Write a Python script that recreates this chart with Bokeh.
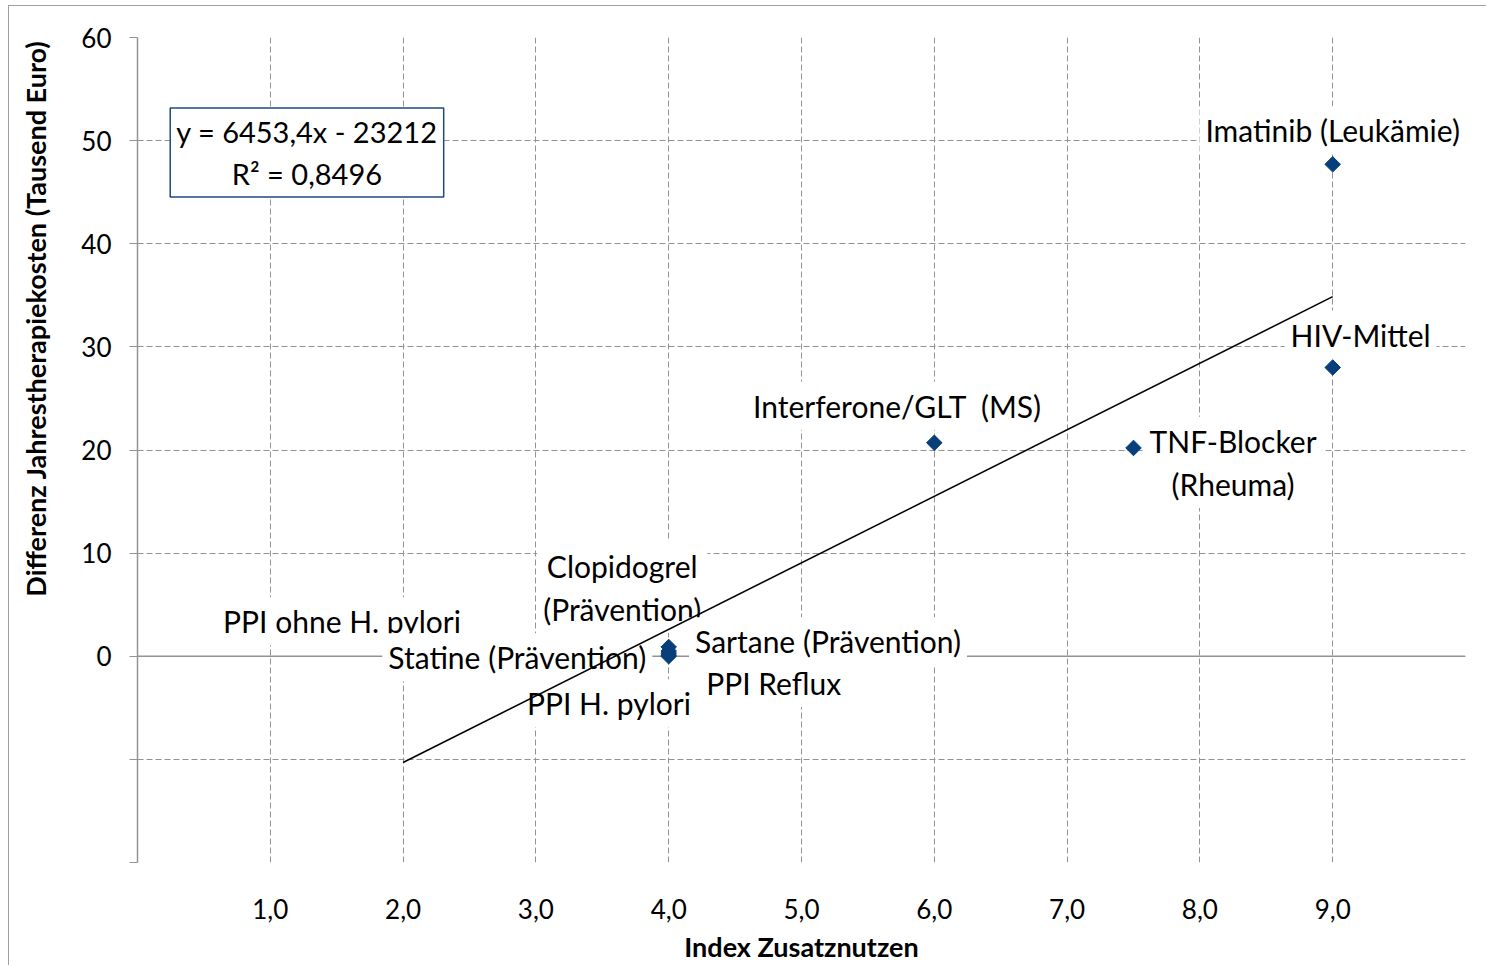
import math
from bokeh.plotting import figure
from bokeh.models import Label, Span, FixedTicker, Title
from bokeh.embed import file_html
from bokeh.resources import INLINE

# ---- data ----
names = ["Imatinib (Leukämie)", "HIV-Mittel", "Interferone/GLT\u00a0\u00a0(MS)", "TNF-Blocker\n(Rheuma)",
         "Clopidogrel\n(Prävention)", "Sartane (Prävention)", "PPI Reflux", "PPI H. pylori",
         "PPI ohne H. pylori", "Statine (Prävention)"]
index_x = [9.0, 9.0, 6.0, 7.5, 4.0, 4.0, 4.0, 4.0, 2.0, 4.0]
cost_y = [47.7, 28.0, 20.7, 20.2, 0.9, 0.5, 0.1, 0.0, 0.0, 0.3]

# trendline (Euro) and R²
slope_eur = 6453.4
intercept_eur = -23212
r_squared = 0.8496

x_ticks = [1, 2, 3, 4, 5, 6, 7, 8, 9]
x_tick_labels = ["1,0", "2,0", "3,0", "4,0", "5,0", "6,0", "7,0", "8,0", "9,0"]
y_ticks = [-20, -10, 0, 10, 20, 30, 40, 50, 60]
y_tick_labels = ["", "", "0", "10", "20", "30", "40", "50", "60"]

# label anchor positions (layout)
label_anchor_x = [9.0, 9.21, 5.72, 8.25, 3.65, 5.2, 4.79, 3.55, 1.54, 2.86]
label_anchor_y = [51.0, 31.2, 24.3, 18.8, 6.7, 1.45, -2.6, -4.55, 3.4, -0.1]

FONT = "Lato"
GRID = "#939393"

p = figure(width=1478, height=960, x_range=(0, 10), y_range=(-20, 60),
           output_backend="svg", toolbar_location=None,
           min_border_left=128, min_border_top=31, min_border_right=22, min_border_bottom=104)
p.outline_line_color = None
p.background_fill_color = "white"
p.border_fill_color = "white"
p.styles = {"border-left": "1px solid #a0a0a0", "border-top": "1px solid #a0a0a0",
            "margin-left": "8px", "margin-top": "5px"}

# grids
p.xgrid.ticker = FixedTicker(ticks=list(range(0, 11)))
p.ygrid.ticker = FixedTicker(ticks=y_ticks)
for g in (p.xgrid, p.ygrid):
    g.grid_line_color = GRID
    g.grid_line_dash = "6 3"
    g.grid_line_width = 1

# y axis
p.yaxis.ticker = FixedTicker(ticks=y_ticks)
p.yaxis.major_label_overrides = {t: l for t, l in zip(y_ticks, y_tick_labels)}
p.yaxis.axis_line_color = GRID
p.yaxis.axis_line_width = 1.5
p.yaxis.major_tick_line_color = GRID
p.yaxis.major_tick_out = 8
p.yaxis.major_tick_in = 0
p.yaxis.minor_tick_line_color = None
p.yaxis.major_label_standoff = 18
p.yaxis.major_label_text_font = FONT
p.yaxis.major_label_text_font_size = "26px"
p.yaxis.major_label_text_color = "black"
# blank axis label used only as spacing before the side title
p.yaxis.axis_label = "\u00a0"
p.yaxis.axis_label_text_font_size = "10px"
p.yaxis.axis_label_standoff = 8

# y-axis title (side title aligned to the top of the frame)
p.add_layout(Title(text="Differenz Jahrestherapiekosten (Tausend Euro)", align="right", offset=3,
                   text_font=FONT, text_font_style="bold", text_font_size="27px",
                   text_color="black"), "left")

# x axis (labels at bottom)
p.xaxis.ticker = FixedTicker(ticks=x_ticks)
p.xaxis.major_label_overrides = {t: l for t, l in zip(x_ticks, x_tick_labels)}
p.xaxis.axis_line_color = None
p.xaxis.major_tick_line_color = None
p.xaxis.minor_tick_line_color = None
p.xaxis.major_label_standoff = 30
p.xaxis.major_label_text_font = FONT
p.xaxis.major_label_text_font_size = "26px"
p.xaxis.major_label_text_color = "black"
p.xaxis.axis_label = "Index Zusatznutzen"
p.xaxis.axis_label_text_font = FONT
p.xaxis.axis_label_text_font_style = "bold"
p.xaxis.axis_label_text_font_size = "27px"
p.xaxis.axis_label_standoff = 8
p.xaxis.axis_label_text_color = "black"

# zero line (x axis crossing)
p.add_layout(Span(location=0, dimension="width", line_color=GRID, line_width=1.5, level="underlay"))

# markers
p.scatter(index_x, cost_y, marker="square", angle=math.pi / 4, size=11,
          fill_color="#073f7a", line_color="#073f7a")

# trendline (in thousand euro)
x0, x1 = min(index_x), max(index_x)
tx = [x0, x1]
ty = [(slope_eur * v + intercept_eur) / 1000.0 for v in tx]
tl = p.line(tx, ty, line_color="black", line_width=1.5)
tl.level = "overlay"

# data labels
for name, lx, ly in zip(names, label_anchor_x, label_anchor_y):
    p.add_layout(Label(x=lx, y=ly, text=name, text_align="center", text_baseline="middle",
                       text_font=FONT, text_font_size="30px", text_color="black",
                       background_fill_color="white", padding=6))

# equation box
eq = "y = " + f"{slope_eur:.1f}".replace(".", ",") + "x - " + f"{abs(intercept_eur):.0f}" + \
     "\nR² = " + f"{r_squared:.4f}".replace(".", ",")
p.add_layout(Label(x=1.276, y=48.84, text=eq, text_align="center", text_baseline="middle",
                   text_font=FONT, text_font_size="29px", text_color="black",
                   background_fill_color="white", border_line_color="#1f497d",
                   border_line_width=1.5, padding=6))

open("out.html", "w").write(file_html(p, INLINE))
